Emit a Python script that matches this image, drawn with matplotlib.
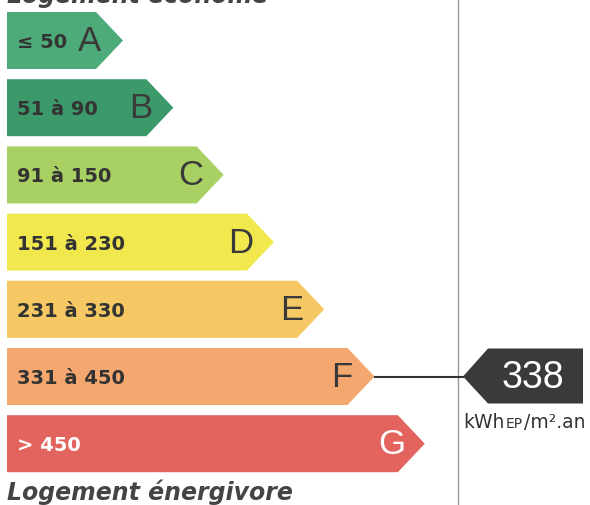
import matplotlib.pyplot as plt
from matplotlib.patches import Polygon

# DPE energy label data
CLASSES = ["A", "B", "C", "D", "E", "F", "G"]
RANGES = ["\u2264 50", "51 \u00e0 90", "91 \u00e0 150", "151 \u00e0 230", "231 \u00e0 330", "331 \u00e0 450", "> 450"]
COLORS = ["#4dab79", "#3c9a6a", "#a9d062", "#f1e84e", "#f6c863", "#f4a870", "#e3645f"]
TEXT_COLORS = ["#333333"] * 6 + ["#ffffff"]
VALUE = 338
VALUE_CLASS = "F"
UNIT_PARTS = ["kWh", "EP", "/m\u00b2.an"]
TOP_LABEL = "Logement \u00e9conome"
BOTTOM_LABEL = "Logement \u00e9nergivore"

W, H = 590, 505
fig = plt.figure(figsize=(W / 100, H / 100), dpi=100)
ax = fig.add_axes([0, 0, 1, 1])
ax.set_xlim(0, W)
ax.set_ylim(H, 0)
ax.axis("off")

x0 = 7
top0, step, bar_h = 12, 67.2, 57
tip0, tip_step, tip_len = 123, 50.3, 27

rows = {}
for i, (cls, rng, col, tc) in enumerate(zip(CLASSES, RANGES, COLORS, TEXT_COLORS)):
    top = top0 + i * step
    bot = top + bar_h
    mid = (top + bot) / 2
    tip = tip0 + i * tip_step
    body = tip - tip_len
    ax.add_patch(Polygon([(x0, top), (body, top), (tip, mid), (body, bot), (x0, bot)],
                         closed=True, facecolor=col, edgecolor="none"))
    ax.text(x0 + 10, mid + 2, rng, fontsize=14, fontweight="bold", color=tc,
            ha="left", va="center", family="DejaVu Sans")
    ax.text(tip - 33, mid + 1, cls, fontsize=25, color=tc if tc == "#ffffff" else "#3a3a3a",
            ha="center", va="center", family="Liberation Sans")
    rows[cls] = (tip, mid)

# top / bottom captions (top one is cut by the page edge, as in the scan)
ax.text(x0, 3, TOP_LABEL, fontsize=17, fontweight="bold", style="italic",
        color="#444444", ha="left", va="baseline")
ax.text(x0, 500, BOTTOM_LABEL, fontsize=17, fontweight="bold", style="italic",
        color="#444444", ha="left", va="baseline")

# separator
ax.plot([458, 458], [0, H], color="#9a9a9a", lw=1)

# value marker
tip_x, mid_y = rows[VALUE_CLASS]
arrow_tip = 463
ax.plot([tip_x, arrow_tip], [mid_y, mid_y], color="#333333", lw=1.5)
btop, bbot = mid_y - 28, mid_y + 27
ax.add_patch(Polygon([(arrow_tip, mid_y), (arrow_tip + 25, btop), (583, btop),
                      (583, bbot), (arrow_tip + 25, bbot)],
                     closed=True, facecolor="#3a3a3a", edgecolor="none"))
ax.text(533, mid_y + 1, str(VALUE), fontsize=27, color="white",
        ha="center", va="center", family="Liberation Sans")

# unit with small-caps "EP"
fig.canvas.draw()
r = fig.canvas.get_renderer()
x = 463
ybase = 428
sizes = [13.5, 10, 13.5]
for part, fs in zip(UNIT_PARTS, sizes):
    t = ax.text(x, ybase, part, fontsize=fs, color="#333333", ha="left",
                va="baseline", family="DejaVu Sans")
    bb = t.get_window_extent(renderer=r)
    x += bb.width + 1

fig.savefig("out.png", dpi=100)
